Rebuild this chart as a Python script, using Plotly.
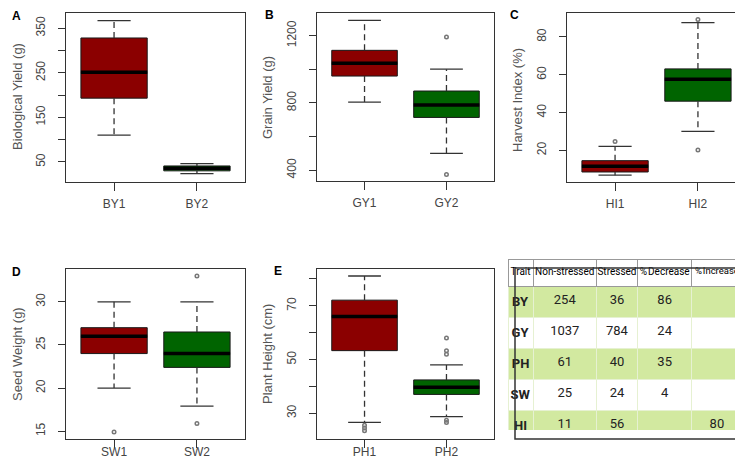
import plotly.graph_objects as go

W, H = 743, 468

# ---- panel data (box statistics) ----
BY_labels = ["BY1", "BY2"]
BY_q1 = [193, 30]
BY_med = [251, 36]
BY_q3 = [328, 41]
BY_lo = [110, 24]
BY_hi = [367, 46]
BY_out = [[], []]

GY_labels = ["GY1", "GY2"]
GY_q1 = [960, 714]
GY_med = [1036, 788]
GY_q3 = [1113, 871]
GY_lo = [805, 500]
GY_hi = [1291, 1001]
GY_out = [[], [1192, 374]]

HI_labels = ["HI1", "HI2"]
HI_q1 = [8.5, 46]
HI_med = [11.5, 57.6]
HI_q3 = [14.5, 63.1]
HI_lo = [6.8, 30]
HI_hi = [22.1, 87.6]
HI_out = [[24.7], [89.2, 20.2]]

SW_labels = ["SW1", "SW2"]
SW_q1 = [24, 22.4]
SW_med = [26, 24]
SW_q3 = [27, 26.5]
SW_lo = [20, 17.9]
SW_hi = [30, 30]
SW_out = [[14.9], [33, 15.9]]

PH_labels = ["PH1", "PH2"]
PH_q1 = [53.3, 37]
PH_med = [66, 39.7]
PH_q3 = [72.1, 42.4]
PH_lo = [26.6, 28.7]
PH_hi = [81.1, 48]
PH_out = [[25.5, 24.5, 23.5], [58, 53.3, 52, 27.4, 26.5]]

# ---- summary table ----
table_header = ["Trait", "Non-stressed", "Stressed", "% Decrease", "% Increase"]
traits = ["BY", "GY", "PH", "SW", "HI"]
non_stressed = [254, 1037, 61, 25, 11]
stressed = [36, 784, 40, 24, 56]
pct_decrease = [86, 24, 35, 4, ""]
pct_increase = ["", "", "", "", 80]

FILLS = ["#8b0000", "#006400"]
INK = "#333333"
TFONT = "Roboto, Liberation Sans, sans-serif"


def px(x0, x1):
    return [x0 / W, x1 / W]


def py(y0, y1):
    return [1 - y1 / H, 1 - y0 / H]


fig = go.Figure()

panels = [
    # letter, ytitle, data, x px, y px, yrange, tickvals, ticktext, x label standoff, title centre
    ("A", "Biological Yield (g)", (BY_labels, BY_q1, BY_med, BY_q3, BY_lo, BY_hi, BY_out),
     (58, 237), (5, 174), [5, 384], [50, 100, 150, 200, 250, 300, 350],
     ["50", "", "150", "", "250", "", "350"], 3, (9, 89)),
    ("B", "Grain Yield (g)", (GY_labels, GY_q1, GY_med, GY_q3, GY_lo, GY_hi, GY_out),
     (309, 486), (5, 173), [336, 1335], [400, 600, 800, 1000, 1200],
     ["400", "", "800", "", "1200"], 3, (260, 90)),
    ("C", "Harvest Index (%)", (HI_labels, HI_q1, HI_med, HI_q3, HI_lo, HI_hi, HI_out),
     (559, 738), (5, 174), [3.2, 92.7], [20, 40, 60, 80],
     ["20", "40", "60", "80"], 3, (510, 92)),
    ("D", "Seed Weight (g)", (SW_labels, SW_q1, SW_med, SW_q3, SW_lo, SW_hi, SW_out),
     (58, 237), (261, 431), [14.1, 33.8], [15, 20, 25, 30],
     ["15", "20", "25", "30"], -6, (9, 346)),
    ("E", "Plant Height (cm)", (PH_labels, PH_q1, PH_med, PH_q3, PH_lo, PH_hi, PH_out),
     (309, 486), (261, 431), [20.4, 83.7], [30, 40, 50, 60, 70, 80],
     ["30", "", "50", "", "70", ""], -6, (259, 346)),
]

letter_pos = {"A": (8, 8), "B": (261, 7), "C": (506, 7), "D": (8, 264), "E": (270, 263)}

for i, (letter, ytitle, data, xpx, ypx, yr, tv, tt, stand, tpos) in enumerate(panels):
    n = i + 1
    xa = "x" if n == 1 else f"x{n}"
    ya = "y" if n == 1 else f"y{n}"
    labels, q1, med, q3, lo, hi, out = data
    pos = [1, 2]

    for k in range(2):
        fig.add_trace(go.Box(
            x=[pos[k]], q1=[q1[k]], median=[med[k]], q3=[q3[k]],
            lowerfence=[q1[k]], upperfence=[q3[k]],
            width=0.8, whiskerwidth=0, fillcolor=FILLS[k],
            line=dict(color="#1a1a1a", width=1), boxpoints=False,
            xaxis=xa, yaxis=ya, showlegend=False, hoverinfo="skip",
        ))

    # dashed whiskers
    wx, wy = [], []
    for k in range(2):
        wx += [pos[k], pos[k], None, pos[k], pos[k], None]
        wy += [q3[k], hi[k], None, q1[k], lo[k], None]
    fig.add_trace(go.Scatter(x=wx, y=wy, mode="lines", xaxis=xa, yaxis=ya,
                             line=dict(color=INK, width=1.3, dash="6px,4px"),
                             showlegend=False, hoverinfo="skip"))
    # staples
    sx, sy = [], []
    for k in range(2):
        sx += [pos[k] - 0.2, pos[k] + 0.2, None, pos[k] - 0.2, pos[k] + 0.2, None]
        sy += [hi[k], hi[k], None, lo[k], lo[k], None]
    fig.add_trace(go.Scatter(x=sx, y=sy, mode="lines", xaxis=xa, yaxis=ya,
                             line=dict(color=INK, width=1.3),
                             showlegend=False, hoverinfo="skip"))
    # thick medians
    mx, my = [], []
    for k in range(2):
        mx += [pos[k] - 0.4, pos[k] + 0.4, None]
        my += [med[k], med[k], None]
    fig.add_trace(go.Scatter(x=mx, y=my, mode="lines", xaxis=xa, yaxis=ya,
                             line=dict(color="black", width=3.5),
                             showlegend=False, hoverinfo="skip"))
    # outliers
    ox, oy = [], []
    for k in range(2):
        ox += [pos[k]] * len(out[k])
        oy += out[k]
    if ox:
        fig.add_trace(go.Scatter(x=ox, y=oy, mode="markers", xaxis=xa, yaxis=ya,
                                 marker=dict(symbol="circle-open", size=3.5,
                                             color="#777", line=dict(width=1.5)),
                                 showlegend=False, hoverinfo="skip"))

    xkey = "xaxis" if n == 1 else f"xaxis{n}"
    ykey = "yaxis" if n == 1 else f"yaxis{n}"
    fig.update_layout({
        xkey: dict(domain=px(*xpx), anchor=ya, range=[0.42, 2.58],
                   tickvals=pos, ticktext=labels, ticks="outside", ticklen=8,
                   tickcolor=INK, showline=True, mirror=True, linecolor=INK,
                   linewidth=1, showgrid=False, zeroline=False,
                   ticklabelstandoff=stand,
                   tickfont=dict(size=12, color="#444")),
        ykey: dict(domain=py(*ypx), anchor=xa, range=yr, tickvals=tv,
                   ticktext=tt, ticks="outside", ticklen=7, tickcolor=INK,
                   showline=True, mirror=True, linecolor=INK, linewidth=1,
                   showgrid=False, zeroline=False, tickangle=-90,
                   ticklabelstandoff=8,
                   tickfont=dict(size=12, color="#444")),
    })

    fig.add_annotation(x=tpos[0] / W, y=1 - tpos[1] / H, xref="paper", yref="paper",
                       xanchor="center", yanchor="middle",
                       text=ytitle, textangle=-90, showarrow=False,
                       font=dict(size=13, color="#555"))
    lx, ly = letter_pos[letter]
    fig.add_annotation(x=lx / W, y=1 - ly / H, xref="paper", yref="paper",
                       xanchor="center", yanchor="middle",
                       text=f"<b>{letter}</b>", showarrow=False,
                       font=dict(size=12, color="black"))

GREEN = "#d2e9a0"
row_fill = [GREEN, "white", GREEN, "white", GREEN]
# plotly offsets the table body a few px from its domain, so nudge it back
fig.add_trace(go.Table(
    domain=dict(x=px(500, 734), y=py(251, 422)),
    columnwidth=[25, 63, 41, 54, 50],
    header=dict(values=[h.replace(" ", "\u200a") for h in table_header],
                fill_color="white", height=27,
                line=dict(color="#999", width=1),
                font=dict(family=TFONT, size=[10, 10, 10, 10, 9.5], color="black"),
                align="center"),
    cells=dict(values=[[f"<b>{t}</b>" for t in traits], non_stressed, stressed,
                       pct_decrease, pct_increase],
               fill_color=[row_fill] * 5, height=28.5,
               line=dict(color="#e6f1d2", width=1),
               font=dict(family=TFONT, size=13, color="#222"), align="center"),
))
fig.add_shape(type="rect", xref="paper", yref="paper",
              x0=507 / W, x1=741 / W, y0=1 - 431 / H, y1=1 - 260 / H,
              line=dict(color="#333", width=1.5))

fig.update_layout(
    width=W, height=H, margin=dict(l=0, r=0, t=0, b=0),
    paper_bgcolor="white", plot_bgcolor="white", boxmode="overlay",
    font=dict(family="Liberation Sans, Arial, sans-serif"),
)

fig.write_html("out.html")
